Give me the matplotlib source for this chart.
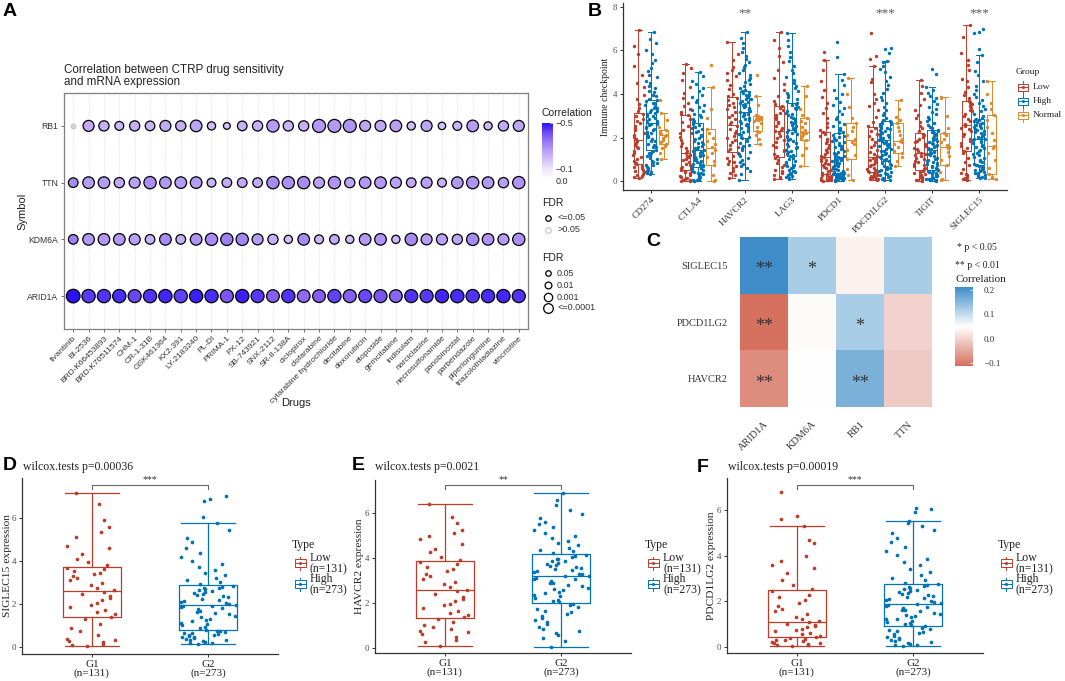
import numpy as np
import matplotlib
matplotlib.use("Agg")
import matplotlib.pyplot as plt
from matplotlib.colors import LinearSegmentedColormap, Normalize
from matplotlib.cm import ScalarMappable
from matplotlib.patches import Rectangle

W, H = 1065, 681
SANS = ["Liberation Sans", "DejaVu Sans"]
SERIF = ["Liberation Serif", "DejaVu Serif"]
RED, BLUE, ORANGE = "#BC3C29", "#0072B5", "#E18727"

# ---------------- A: CTRP drug sensitivity vs mRNA expression ----------------
drugs = ["tivantinib", "BI-2536", "BRD-K66453893", "BRD-K70511574", "CHM-1", "CR-1-31B",
         "GSK461364", "KX2-391", "LY-2183240", "PL-DI", "PRIMA-1", "PX-12", "SB-743921",
         "SNX-2112", "SR-II-138A", "ciclopirox", "clofarabine", "cytarabine hydrochloride",
         "decitabine", "doxorubicin", "etoposide", "gemcitabine", "indisulam", "narciclasine",
         "necrosulfonamide", "panobinostat", "parbendazole", "piperlongumine",
         "triazolothiadiazine", "vincristine"]
symbols = ["ARID1A", "KDM6A", "TTN", "RB1"]  # bottom to top

cor_arid1a = [-0.50, -0.44, -0.45, -0.46, -0.42, -0.45, -0.47, -0.43, -0.48, -0.46,
              -0.40, -0.48, -0.44, -0.38, -0.45, -0.36, -0.38, -0.43, -0.38, -0.42,
              -0.40, -0.37, -0.45, -0.44, -0.47, -0.46, -0.45, -0.46, -0.47, -0.45]
cor_kdm6a = [-0.32, -0.27, -0.27, -0.27, -0.25, -0.21, -0.30, -0.22, -0.28, -0.30,
             -0.32, -0.31, -0.26, -0.22, -0.19, -0.30, -0.20, -0.23, -0.19, -0.27,
             -0.28, -0.20, -0.30, -0.26, -0.25, -0.24, -0.30, -0.28, -0.26, -0.29]
cor_ttn = [-0.30, -0.26, -0.26, -0.23, -0.25, -0.29, -0.27, -0.26, -0.26, -0.21,
           -0.23, -0.23, -0.23, -0.30, -0.29, -0.30, -0.25, -0.28, -0.24, -0.27,
           -0.27, -0.25, -0.23, -0.25, -0.22, -0.27, -0.28, -0.27, -0.25, -0.28]
cor_rb1 = [-0.08, -0.23, -0.22, -0.20, -0.22, -0.21, -0.23, -0.22, -0.24, -0.19,
           -0.18, -0.21, -0.22, -0.26, -0.21, -0.22, -0.27, -0.27, -0.28, -0.24,
           -0.23, -0.25, -0.19, -0.24, -0.18, -0.21, -0.26, -0.20, -0.23, -0.24]
# -log10(FDR)
fdr_arid1a = [8.0, 7.6, 7.6, 7.6, 7.3, 7.6, 7.6, 7.6, 7.6, 7.6, 7.3, 7.6, 7.3, 7.0, 7.6,
              7.0, 7.0, 7.6, 7.3, 7.3, 7.3, 7.0, 7.3, 7.3, 7.6, 7.6, 7.6, 7.6, 7.6, 7.3]
fdr_kdm6a = [4.0, 5.8, 5.8, 5.8, 5.2, 4.0, 5.8, 4.0, 5.8, 6.5, 6.5, 6.5, 5.2, 4.5, 2.9,
             5.8, 3.4, 4.0, 2.9, 5.8, 5.8, 2.9, 6.5, 5.2, 5.2, 4.5, 6.5, 5.8, 5.2, 6.5]
fdr_ttn = [4.0, 5.8, 5.8, 4.5, 5.2, 6.5, 5.8, 5.8, 5.8, 3.4, 4.0, 4.0, 4.0, 6.5, 6.5,
           6.5, 5.2, 6.5, 4.5, 5.8, 5.8, 5.2, 4.0, 5.2, 3.4, 5.8, 6.5, 5.8, 4.5, 6.5]
fdr_rb1 = [1.0, 5.2, 4.5, 3.4, 4.5, 4.0, 5.2, 4.5, 5.8, 2.9, 2.0, 4.0, 4.5, 6.5, 4.5,
           4.5, 7.3, 7.3, 7.3, 5.2, 5.2, 5.8, 2.9, 5.2, 2.4, 3.4, 5.8, 2.9, 4.5, 5.2]

# ---------------- B / D / E / F: immune checkpoint expression ----------------
checkpoints = ["CD274", "CTLA4", "HAVCR2", "LAG3", "PDCD1", "PDCD1LG2", "TIGIT", "SIGLEC15"]
checkpoint_sig = ["", "", "**", "", "", "***", "", "***"]

# box statistics: lower whisker, q1, median, q3, upper whisker
low_whislo = [0.15, 0.00, 0.12, 0.10, 0.02, 0.06, 0.02, 0.05]
low_q1 = [0.80, 0.50, 1.34, 1.10, 0.34, 0.42, 0.50, 1.36]
low_med = [1.88, 1.30, 2.57, 2.30, 1.10, 1.10, 1.27, 2.59]
low_q3 = [3.11, 3.05, 3.85, 3.46, 2.27, 2.49, 2.20, 3.70]
low_whishi = [6.93, 5.38, 6.39, 6.86, 5.58, 5.29, 4.64, 7.16]

high_whislo = [0.34, 0.00, 0.07, 0.10, 0.02, 0.04, 0.02, 0.12]
high_q1 = [1.42, 0.65, 1.99, 1.15, 0.35, 0.92, 0.50, 0.76]
high_med = [2.65, 1.42, 3.19, 2.35, 1.10, 1.89, 1.42, 1.92]
high_q3 = [3.74, 2.65, 4.16, 3.60, 2.20, 2.77, 2.36, 2.85]
high_whishi = [6.84, 4.99, 6.87, 6.78, 4.94, 5.53, 4.32, 5.77]

normal_whislo = [1.00, 0.00, 1.70, 0.69, 0.06, 0.68, 0.05, 0.08]
normal_q1 = [1.72, 0.72, 2.32, 1.88, 1.03, 1.28, 0.76, 0.32]
normal_med = [2.10, 1.50, 2.82, 2.27, 1.88, 1.85, 1.56, 1.61]
normal_q3 = [2.34, 2.39, 2.97, 2.91, 2.66, 2.66, 2.20, 3.05]
normal_whishi = [3.15, 4.30, 3.90, 4.37, 4.73, 3.74, 3.87, 4.58]

pts_low_cd274 = [0.15, 0.19, 0.24, 0.30, 0.33, 0.41, 0.47, 0.52, 0.60, 0.66, 0.71, 0.78,
                 0.84, 0.93, 1.02, 1.10, 1.21, 1.29, 1.37, 1.50, 1.58, 1.66, 1.77, 1.85,
                 1.92, 2.01, 2.12, 2.20, 2.34, 2.43, 2.55, 2.66, 2.78, 2.86, 2.97, 3.08,
                 3.20, 3.35, 3.52, 3.78, 3.95, 4.30, 4.52, 4.85, 5.30, 5.82, 6.20, 6.93]
pts_high_cd274 = [0.34, 0.36, 0.41, 0.47, 0.50, 0.57, 0.61, 0.64, 0.72, 0.76, 0.85, 0.88, 0.93, 1.02,
                  1.05, 1.16, 1.19, 1.28, 1.31, 1.40, 1.45, 1.55, 1.58, 1.67, 1.71, 1.82, 1.86, 1.93,
                  2.03, 2.06, 2.16, 2.19, 2.27, 2.36, 2.38, 2.46, 2.49, 2.56, 2.60, 2.64, 2.67, 2.75,
                  2.78, 2.86, 2.89, 2.97, 3.00, 3.09, 3.11, 3.19, 3.22, 3.27, 3.35, 3.37, 3.46, 3.49,
                  3.57, 3.60, 3.68, 3.73, 3.79, 3.90, 3.95, 4.08, 4.13, 4.28, 4.35, 4.51, 4.60, 4.79,
                  4.88, 5.07, 5.20, 5.43, 5.55, 5.83, 6.02, 6.33, 6.51, 6.84]
pts_normal_cd274 = [1.00, 1.30, 1.50, 1.62, 1.72, 1.80, 1.90, 1.97, 2.05, 2.12, 2.18, 2.22,
                    2.28, 2.34, 2.50, 2.80, 3.15, 3.74]

pts_low_ctla4 = [0.00, 0.01, 0.03, 0.05, 0.09, 0.12, 0.18, 0.22, 0.29, 0.35, 0.41, 0.48,
                 0.53, 0.60, 0.66, 0.74, 0.80, 0.88, 0.95, 1.01, 1.10, 1.16, 1.22, 1.29,
                 1.38, 1.50, 1.62, 1.75, 1.90, 2.04, 2.21, 2.36, 2.55, 2.70, 2.86, 3.02,
                 3.10, 3.18, 3.30, 3.45, 3.60, 3.82, 4.05, 4.30, 4.62, 4.95, 5.18, 5.38]
pts_high_ctla4 = [0.00, 0.02, 0.03, 0.05, 0.08, 0.10, 0.13, 0.17, 0.21, 0.23, 0.27, 0.32, 0.35, 0.39,
                  0.42, 0.47, 0.51, 0.56, 0.60, 0.64, 0.67, 0.72, 0.76, 0.79, 0.84, 0.87, 0.92, 0.96,
                  1.01, 1.04, 1.09, 1.14, 1.17, 1.22, 1.25, 1.30, 1.32, 1.36, 1.38, 1.41, 1.46, 1.50,
                  1.57, 1.62, 1.69, 1.74, 1.81, 1.86, 1.94, 1.99, 2.06, 2.11, 2.19, 2.24, 2.32, 2.37,
                  2.45, 2.50, 2.58, 2.63, 2.70, 2.78, 2.86, 2.93, 3.03, 3.10, 3.21, 3.28, 3.39, 3.49,
                  3.62, 3.72, 3.86, 3.97, 4.13, 4.26, 4.46, 4.61, 4.81, 4.99]
pts_normal_ctla4 = [0.00, 0.05, 0.30, 0.72, 0.90, 1.10, 1.30, 1.45, 1.55, 1.70, 1.85, 2.00,
                    2.20, 2.39, 2.90, 3.30, 4.30, 5.33]

pts_low_havcr2 = [0.12, 0.29, 0.35, 0.48, 0.62, 0.71, 0.78, 0.86, 0.93, 1.04, 1.17, 1.31,
                  1.38, 1.47, 1.58, 1.66, 1.79, 1.90, 1.97, 2.08, 2.20, 2.29, 2.41, 2.52,
                  2.60, 2.71, 2.84, 2.93, 3.05, 3.18, 3.29, 3.42, 3.50, 3.60, 3.71, 3.82,
                  3.90, 4.02, 4.25, 4.40, 4.63, 4.84, 4.95, 5.10, 5.22, 5.56, 5.82, 6.39]
pts_high_havcr2 = [0.07, 0.31, 0.45, 0.58, 0.69, 0.77, 0.86, 0.95, 1.08, 1.16, 1.25, 1.33, 1.42, 1.50,
                   1.59, 1.66, 1.74, 1.82, 1.90, 1.97, 2.03, 2.11, 2.15, 2.24, 2.31, 2.36, 2.44, 2.50,
                   2.57, 2.61, 2.69, 2.76, 2.80, 2.87, 2.91, 2.98, 3.05, 3.08, 3.13, 3.18, 3.21, 3.27,
                   3.29, 3.36, 3.40, 3.46, 3.49, 3.55, 3.59, 3.65, 3.68, 3.75, 3.78, 3.85, 3.87, 3.94,
                   3.97, 4.04, 4.07, 4.14, 4.20, 4.29, 4.37, 4.46, 4.55, 4.66, 4.75, 4.86, 4.98, 5.10,
                   5.22, 5.35, 5.48, 5.60, 5.75, 5.93, 6.10, 6.32, 6.55, 6.87]
pts_normal_havcr2 = [1.70, 1.95, 2.10, 2.25, 2.32, 2.50, 2.65, 2.75, 2.80, 2.84, 2.88, 2.92,
                     2.97, 3.00, 3.05, 3.50, 3.90, 4.85]

pts_low_lag3 = [0.10, 0.14, 0.20, 0.27, 0.35, 0.44, 0.52, 0.63, 0.74, 0.85, 0.96, 1.07,
                1.15, 1.25, 1.36, 1.45, 1.56, 1.67, 1.78, 1.88, 1.99, 2.08, 2.19, 2.28,
                2.35, 2.44, 2.54, 2.65, 2.73, 2.84, 2.95, 3.04, 3.14, 3.25, 3.34, 3.44,
                3.55, 3.70, 3.92, 4.20, 4.46, 4.75, 5.12, 5.48, 5.75, 6.10, 6.50, 6.86]
pts_high_lag3 = [0.10, 0.13, 0.17, 0.22, 0.28, 0.31, 0.37, 0.42, 0.47, 0.53, 0.60, 0.64, 0.71, 0.76,
                 0.82, 0.89, 0.94, 1.01, 1.08, 1.13, 1.18, 1.25, 1.32, 1.37, 1.44, 1.51, 1.56, 1.63,
                 1.70, 1.75, 1.82, 1.89, 1.94, 2.01, 2.07, 2.14, 2.19, 2.26, 2.30, 2.34, 2.41, 2.46,
                 2.53, 2.58, 2.65, 2.72, 2.77, 2.84, 2.91, 2.96, 3.03, 3.10, 3.15, 3.22, 3.29, 3.34,
                 3.41, 3.48, 3.52, 3.59, 3.67, 3.76, 3.85, 3.95, 4.05, 4.16, 4.27, 4.39, 4.52, 4.65,
                 4.80, 4.96, 5.12, 5.30, 5.50, 5.72, 5.95, 6.20, 6.50, 6.78]
pts_normal_lag3 = [0.69, 1.20, 1.50, 1.88, 1.95, 2.05, 2.15, 2.22, 2.27, 2.35, 2.50, 2.65,
                   2.78, 2.91, 3.05, 3.30, 3.90, 4.37]

pts_low_pdcd1 = [0.02, 0.03, 0.05, 0.07, 0.10, 0.13, 0.16, 0.19, 0.22, 0.26, 0.29, 0.33,
                 0.38, 0.45, 0.52, 0.58, 0.65, 0.72, 0.79, 0.85, 0.91, 0.97, 1.03, 1.09,
                 1.16, 1.25, 1.34, 1.44, 1.53, 1.64, 1.74, 1.85, 1.95, 2.06, 2.15, 2.25,
                 2.35, 2.50, 2.68, 2.90, 3.12, 3.35, 3.60, 3.88, 4.20, 4.60, 5.10, 5.58, 5.95]
pts_high_pdcd1 = [0.02, 0.03, 0.04, 0.06, 0.07, 0.09, 0.10, 0.12, 0.14, 0.16, 0.18, 0.20, 0.22, 0.24,
                  0.26, 0.28, 0.30, 0.31, 0.33, 0.35, 0.39, 0.43, 0.47, 0.51, 0.55, 0.59, 0.63, 0.67,
                  0.71, 0.75, 0.79, 0.83, 0.87, 0.91, 0.95, 0.98, 1.01, 1.04, 1.07, 1.09, 1.13, 1.18,
                  1.24, 1.29, 1.34, 1.40, 1.46, 1.51, 1.57, 1.62, 1.68, 1.73, 1.79, 1.85, 1.90, 1.96,
                  2.02, 2.08, 2.13, 2.19, 2.25, 2.34, 2.42, 2.52, 2.61, 2.72, 2.83, 2.95, 3.07, 3.20,
                  3.34, 3.48, 3.62, 3.80, 3.98, 4.18, 4.40, 4.62, 4.94, 5.70, 6.40]
pts_normal_pdcd1 = [0.06, 0.30, 0.55, 1.03, 1.20, 1.45, 1.70, 1.80, 1.88, 1.95, 2.10, 2.30,
                    2.50, 2.66, 2.90, 3.40, 4.00, 4.73]

pts_low_pdcd1lg2 = [0.06, 0.08, 0.10, 0.13, 0.16, 0.19, 0.22, 0.25, 0.29, 0.32, 0.36, 0.40,
                    0.45, 0.50, 0.56, 0.62, 0.68, 0.74, 0.80, 0.86, 0.92, 0.98, 1.03, 1.08,
                    1.14, 1.24, 1.33, 1.45, 1.56, 1.68, 1.80, 1.93, 2.05, 2.18, 2.30, 2.44,
                    2.55, 2.72, 2.95, 3.25, 3.45, 3.60, 3.78, 4.00, 4.55, 4.70, 5.29, 5.60, 5.75, 6.78]
pts_high_pdcd1lg2 = [0.04, 0.07, 0.10, 0.14, 0.18, 0.22, 0.27, 0.31, 0.36, 0.41, 0.46, 0.50, 0.55, 0.60,
                     0.65, 0.70, 0.75, 0.80, 0.85, 0.90, 0.96, 1.01, 1.04, 1.11, 1.14, 1.21, 1.24, 1.31,
                     1.36, 1.39, 1.46, 1.49, 1.56, 1.61, 1.64, 1.71, 1.74, 1.80, 1.84, 1.88, 1.92, 1.97,
                     2.01, 2.06, 2.10, 2.15, 2.19, 2.24, 2.28, 2.33, 2.37, 2.42, 2.46, 2.51, 2.55, 2.60,
                     2.64, 2.68, 2.72, 2.76, 2.82, 2.92, 3.03, 3.15, 3.28, 3.42, 3.58, 3.72, 3.88, 4.05,
                     4.22, 4.40, 4.60, 4.80, 5.00, 5.15, 5.30, 5.45, 5.53, 5.90, 6.05, 6.10]
pts_normal_pdcd1lg2 = [0.68, 0.90, 1.10, 1.28, 1.40, 1.55, 1.70, 1.80, 1.85, 1.95, 2.10, 2.30,
                       2.50, 2.66, 2.80, 2.95, 3.30, 3.74]

pts_low_tigit = [0.02, 0.04, 0.06, 0.09, 0.13, 0.17, 0.21, 0.26, 0.31, 0.36, 0.42, 0.48,
                 0.54, 0.60, 0.67, 0.73, 0.80, 0.87, 0.93, 1.00, 1.06, 1.13, 1.19, 1.25,
                 1.31, 1.39, 1.46, 1.54, 1.62, 1.70, 1.78, 1.86, 1.94, 2.02, 2.10, 2.18,
                 2.28, 2.42, 2.55, 2.70, 2.88, 3.05, 3.25, 3.50, 3.75, 4.05, 4.35, 4.64]
pts_high_tigit = [0.02, 0.03, 0.05, 0.07, 0.09, 0.11, 0.14, 0.16, 0.19, 0.22, 0.24, 0.27, 0.30, 0.33,
                  0.36, 0.39, 0.42, 0.44, 0.47, 0.49, 0.54, 0.59, 0.64, 0.68, 0.73, 0.78, 0.83, 0.88,
                  0.93, 0.98, 1.03, 1.08, 1.13, 1.18, 1.23, 1.27, 1.31, 1.35, 1.38, 1.41, 1.46, 1.51,
                  1.56, 1.60, 1.65, 1.70, 1.75, 1.80, 1.85, 1.90, 1.95, 2.00, 2.05, 2.10, 2.15, 2.20,
                  2.24, 2.28, 2.32, 2.35, 2.42, 2.50, 2.58, 2.67, 2.76, 2.86, 2.96, 3.07, 3.18, 3.30,
                  3.42, 3.55, 3.68, 3.80, 3.92, 4.05, 4.18, 4.32, 4.90, 5.15]
pts_normal_tigit = [0.05, 0.10, 0.40, 0.76, 0.95, 1.15, 1.35, 1.50, 1.56, 1.65, 1.80, 1.95,
                    2.10, 2.20, 2.45, 3.00, 3.80, 3.87]

pts_low_siglec15 = [0.05, 0.09, 0.14, 0.20, 0.26, 0.31, 0.38, 0.55, 0.74, 0.88, 1.05, 1.29,
                    1.40, 1.50, 1.60, 1.73, 1.85, 1.94, 2.05, 2.16, 2.28, 2.37, 2.46, 2.55,
                    2.64, 2.75, 2.86, 2.98, 3.08, 3.20, 3.28, 3.37, 3.45, 3.53, 3.60, 3.67,
                    3.82, 3.95, 4.10, 4.32, 4.60, 4.68, 5.08, 5.35, 5.55, 5.88, 6.62, 7.16]
pts_high_siglec15 = [0.12, 0.15, 0.19, 0.22, 0.26, 0.29, 0.33, 0.36, 0.39, 0.43, 0.46, 0.50, 0.53, 0.56,
                     0.60, 0.63, 0.66, 0.69, 0.72, 0.75, 0.80, 0.86, 0.92, 0.99, 1.05, 1.12, 1.18, 1.25,
                     1.31, 1.38, 1.44, 1.51, 1.57, 1.63, 1.68, 1.74, 1.79, 1.84, 1.88, 1.91, 1.95, 2.00,
                     2.04, 2.09, 2.14, 2.19, 2.24, 2.29, 2.34, 2.39, 2.44, 2.49, 2.54, 2.58, 2.63, 2.67,
                     2.71, 2.75, 2.79, 2.83, 2.92, 3.00, 3.10, 3.20, 3.32, 3.45, 3.58, 3.72, 3.85, 4.00,
                     4.18, 4.38, 4.60, 4.85, 5.05, 5.45, 5.77, 6.05, 6.80, 6.85, 7.00]
pts_normal_siglec15 = [0.08, 0.12, 0.20, 0.32, 0.60, 0.95, 1.30, 1.50, 1.61, 1.90, 2.20, 2.50,
                       2.80, 3.05, 3.30, 3.60, 4.00, 4.58]

# ---------------- C: correlation heatmap ----------------
heat_rows = ["SIGLEC15", "PDCD1LG2", "HAVCR2"]
heat_cols = ["ARID1A", "KDM6A", "RB1", "TTN"]
heat_siglec15 = [0.21, 0.12, 0.035, 0.12]
heat_pdcd1lg2 = [-0.11, 0.045, 0.12, 0.0]
heat_havcr2 = [-0.08, 0.05, 0.16, -0.01]
star_siglec15 = ["**", "*", "", ""]
star_pdcd1lg2 = ["**", "", "*", ""]
star_havcr2 = ["**", "", "**", ""]

# ---------------------------------------------------------------------------
fig = plt.figure(figsize=(W / 100, H / 100), dpi=100)
fig.patch.set_facecolor("white")


def add_ax(l, t, r, b):
    return fig.add_axes([l / W, 1 - b / H, (r - l) / W, (b - t) / H])


def jitter(n, half, phase):
    # deterministic scatter of horizontal offsets
    k = np.arange(n) + phase * 997.0
    u = np.modf(np.abs(np.sin(k * 12.9898 + 78.233) * 43758.5453))[0]
    return (u - 0.5) * 2 * half


def draw_box(ax, x, st, color, width, capw, lw=0.8):
    ax.bxp([dict(whislo=st[0], q1=st[1], med=st[2], q3=st[3], whishi=st[4], fliers=[])],
           positions=[x], widths=width, capwidths=capw, showfliers=False,
           boxprops=dict(color=color, lw=lw), whiskerprops=dict(color=color, lw=lw),
           capprops=dict(color=color, lw=lw), medianprops=dict(color=color, lw=lw),
           manage_ticks=False, zorder=2)


def serif_axis(ax, tick_size=6.5):
    for s in ["top", "right"]:
        ax.spines[s].set_visible(False)
    for s in ["left", "bottom"]:
        ax.spines[s].set_color("#333333")
        ax.spines[s].set_linewidth(0.9)
    ax.tick_params(length=2.5, width=0.7, color="#333333", labelsize=tick_size,
                   labelcolor="#4D4D4D", pad=1.5)
    for lab in ax.get_xticklabels() + ax.get_yticklabels():
        lab.set_family(SERIF)


# ---------------- panel A ----------------
cmapA = LinearSegmentedColormap.from_list(
    "corA", [(0.0, "#2B12F7"), (0.2, "#7B55F2"), (0.4, "#A88AF4"),
             (0.6, "#CDB8F8"), (0.8, "#EDE5FD"), (1.0, "#FFFFFF")])
normA = Normalize(-0.5, 0.0)
SIZE_K = 12.0  # points^2 per unit of -log10(FDR)
fdr_cut = -np.log10(0.05)

axA = add_ax(64, 93, 528, 329)
xs = np.arange(1, len(drugs) + 1)
rows_cor = [cor_arid1a, cor_kdm6a, cor_ttn, cor_rb1]
rows_fdr = [fdr_arid1a, fdr_kdm6a, fdr_ttn, fdr_rb1]
for yi, (cv, fv) in enumerate(zip(rows_cor, rows_fdr)):
    cv = np.array(cv)
    fv = np.array(fv)
    sig = fv >= fdr_cut
    cols = cmapA(normA(cv))
    axA.scatter(xs[sig], np.full(sig.sum(), yi + 1), s=fv[sig] * SIZE_K, c=cols[sig],
                edgecolors="black", linewidths=0.9, zorder=3)
    if (~sig).any():
        axA.scatter(xs[~sig], np.full((~sig).sum(), yi + 1), s=fv[~sig] * SIZE_K,
                    c="#D8D2E6", edgecolors="#BBBBBB", linewidths=0.6, zorder=3)
axA.set_xlim(0.4, len(drugs) + 0.6)
axA.set_ylim(0.42, 4.58)
axA.set_xticks(xs)
axA.set_xticklabels(drugs, rotation=45, ha="right", rotation_mode="anchor",
                    fontsize=6.0, family=SANS, color="#333333")
axA.set_yticks([1, 2, 3, 4])
axA.set_yticklabels(symbols, fontsize=6.2, family=SANS, color="#333333")
axA.tick_params(length=2.5, width=0.6, color="#555555", pad=1.5)
axA.grid(axis="x", color="#D9D9D9", lw=0.5, linestyle=(0, (2, 2)), zorder=0)
axA.set_axisbelow(True)
for s in axA.spines.values():
    s.set_color("#7F7F7F")
    s.set_linewidth(0.9)

caxA = add_ax(542, 123, 553, 180)
cbA = fig.colorbar(ScalarMappable(norm=normA, cmap=cmapA), cax=caxA, ticks=[-0.5, -0.1, 0.0])
caxA.invert_yaxis()
cbA.outline.set_visible(False)
caxA.tick_params(length=2, width=0.5, color="white", direction="in", labelsize=6.5, pad=2)
for lab in caxA.get_yticklabels():
    lab.set_family(SANS)
    lab.set_color("#333333")

# ---------------- panel B ----------------
axB = add_ax(623, 3, 1007, 190)
low_stats = list(zip(low_whislo, low_q1, low_med, low_q3, low_whishi))
high_stats = list(zip(high_whislo, high_q1, high_med, high_q3, high_whishi))
normal_stats = list(zip(normal_whislo, normal_q1, normal_med, normal_q3, normal_whishi))
pts_low = [pts_low_cd274, pts_low_ctla4, pts_low_havcr2, pts_low_lag3,
           pts_low_pdcd1, pts_low_pdcd1lg2, pts_low_tigit, pts_low_siglec15]
pts_high = [pts_high_cd274, pts_high_ctla4, pts_high_havcr2, pts_high_lag3,
            pts_high_pdcd1, pts_high_pdcd1lg2, pts_high_tigit, pts_high_siglec15]
pts_normal = [pts_normal_cd274, pts_normal_ctla4, pts_normal_havcr2, pts_normal_lag3,
              pts_normal_pdcd1, pts_normal_pdcd1lg2, pts_normal_tigit, pts_normal_siglec15]
dodge = {"Low": -0.27, "High": 0.0, "Normal": 0.27}
for gi in range(len(checkpoints)):
    x0 = gi + 1
    for gname, col, st, pts, jw, ph in [("Low", RED, low_stats[gi], pts_low[gi], 0.12, 0.11),
                                        ("High", BLUE, high_stats[gi], pts_high[gi], 0.13, 0.37),
                                        ("Normal", ORANGE, normal_stats[gi], pts_normal[gi], 0.1, 0.71)]:
        x = x0 + dodge[gname]
        draw_box(axB, x, st, col, 0.2, 0.14, lw=0.7)
        axB.scatter(x + jitter(len(pts), jw, ph + gi * 0.07), pts, s=6, color=col,
                    linewidths=0, zorder=3)
    if checkpoint_sig[gi]:
        axB.text(x0, 7.7, checkpoint_sig[gi], ha="center", va="center", fontsize=9.5,
                 family=SERIF, color="#555555")
axB.set_xlim(0.4, len(checkpoints) + 0.6)
axB.set_ylim(-0.41, 8.18)
axB.set_yticks([0, 2, 4, 6, 8])
axB.set_xticks(np.arange(1, len(checkpoints) + 1))
axB.set_xticklabels(checkpoints, rotation=45, ha="right", rotation_mode="anchor")
serif_axis(axB, 6.3)
for lab in axB.get_xticklabels():
    lab.set_fontsize(6.8)
    lab.set_color("#333333")
axB.set_ylabel("Immune checkpoint", fontsize=7, family=SERIF, color="#222222", labelpad=2)

# ---------------- panel C ----------------
cmapC = LinearSegmentedColormap.from_list("corC", ["#D6705F", "#FFFFFF", "#3D8DC8"])
normC = Normalize(-0.112, 0.212)
axC = add_ax(740, 237, 932, 407)
heat = np.array([heat_siglec15, heat_pdcd1lg2, heat_havcr2])
stars = [star_siglec15, star_pdcd1lg2, star_havcr2]
axC.imshow(heat, cmap=cmapC, norm=normC, extent=(-0.5, 3.5, 2.5, -0.5), aspect="auto")
for r in range(heat.shape[0]):
    for c in range(heat.shape[1]):
        if stars[r][c]:
            axC.text(c, r + 0.08, stars[r][c], ha="center", va="center", fontsize=13,
                     family=SERIF, color="#333333")
axC.set_xticks(range(len(heat_cols)))
axC.set_xticklabels(heat_cols, rotation=45, ha="right", rotation_mode="anchor",
                    fontsize=7.5, family=SERIF, color="#333333")
axC.set_yticks(range(len(heat_rows)))
axC.set_yticklabels(heat_rows, fontsize=7.5, family=SERIF, color="#333333")
axC.tick_params(length=0, pad=9)
for s in axC.spines.values():
    s.set_visible(False)

caxC = add_ax(955, 287, 973, 366)
cbC = fig.colorbar(ScalarMappable(norm=normC, cmap=cmapC), cax=caxC, ticks=[-0.1, 0.0, 0.1, 0.2])
cbC.outline.set_visible(False)
caxC.tick_params(length=2, width=0.5, color="white", direction="in", labelsize=6.5, pad=8)
for lab in caxC.get_yticklabels():
    lab.set_family(SERIF)
    lab.set_color("#333333")


# ---------------- panels D, E, F ----------------
def expr_panel(l, t, r, b, zero_px, unit_px, low, high, st_low, st_high, bracket_y, sig):
    ax = add_ax(l, t, r, b)
    ax.set_xlim(0.4, 2.6)
    ax.set_ylim((zero_px - b) / unit_px, (zero_px - t) / unit_px)
    draw_box(ax, 1, st_low, RED, 0.5, 0.46, lw=0.9)
    draw_box(ax, 2, st_high, BLUE, 0.5, 0.46, lw=0.9)
    ax.scatter(1 + jitter(len(low), 0.22, 0.13), low, s=7, color=RED, linewidths=0, zorder=3)
    ax.scatter(2 + jitter(len(high), 0.24, 0.52), high, s=7, color=BLUE, linewidths=0, zorder=3)
    ax.plot([1, 1, 2, 2], [bracket_y - 0.2, bracket_y, bracket_y, bracket_y - 0.2],
            color="#666666", lw=0.8)
    ax.text(1.5, bracket_y + 0.02, sig, ha="center", va="bottom", fontsize=7,
            family=SERIF, color="#333333")
    ax.set_yticks([0, 2, 4, 6])
    ax.set_xticks([1, 2])
    ax.set_xticklabels(["G1\n(n=131)", "G2\n(n=273)"], linespacing=0.95)
    serif_axis(ax, 6.5)
    for lab in ax.get_xticklabels():
        lab.set_fontsize(8)
        lab.set_color("#222222")
    return ax


expr_panel(22, 478, 278, 654, 646.7, 21.5, pts_low_siglec15, pts_high_siglec15,
           low_stats[7], high_stats[7], 7.52, "***")
expr_panel(375, 480, 631, 653, 648.3, 22.6, pts_low_havcr2, pts_high_havcr2,
           low_stats[2], high_stats[2], 7.23, "**")
expr_panel(727, 478, 983, 653, 647.0, 22.8, pts_low_pdcd1lg2, pts_high_pdcd1lg2,
           low_stats[5], high_stats[5], 7.12, "***")

# ---------------- overlay: letters, titles, legends ----------------
ov = fig.add_axes([0, 0, 1, 1])
ov.set_xlim(0, W)
ov.set_ylim(H, 0)
ov.axis("off")

for letter, x, y in [("A", 10, 12), ("B", 595, 11), ("C", 653, 242),
                     ("D", 10, 465), ("E", 358, 465), ("F", 703, 468)]:
    ov.text(x, y, letter, ha="center", va="center", fontsize=14, fontweight="bold",
            family=SANS, color="black")

# panel A texts
ov.text(64, 70, "Correlation between CTRP drug sensitivity", ha="left", va="center",
        fontsize=8.4, family=SANS, color="#222222")
ov.text(64, 82, "and mRNA expression", ha="left", va="center", fontsize=8.4,
        family=SANS, color="#222222")
ov.text(296, 403, "Drugs", ha="center", va="center", fontsize=8, family=SANS, color="#222222")
ov.text(22, 211, "Symbol", ha="center", va="center", rotation=90, fontsize=8,
        family=SANS, color="#222222")
ov.text(542, 113, "Correlation", ha="left", va="center", fontsize=7.5, family=SANS,
        color="#222222")
ov.text(542, 203, "FDR", ha="left", va="center", fontsize=7.5, family=SANS, color="#222222")
ov.scatter([548], [218], s=1.3 * SIZE_K, facecolors="white", edgecolors="black", linewidths=0.9)
ov.scatter([548], [230], s=1.3 * SIZE_K, facecolors="white", edgecolors="#BBBBBB", linewidths=0.7)
ov.text(557, 218, "<=0.05", ha="left", va="center", fontsize=6.5, family=SANS, color="#333333")
ov.text(557, 230, ">0.05", ha="left", va="center", fontsize=6.5, family=SANS, color="#333333")
ov.text(542, 258, "FDR", ha="left", va="center", fontsize=7.5, family=SANS, color="#222222")
for yy, v, lab in [(273, 1.3, "0.05"), (285, 2.0, "0.01"), (297, 3.0, "0.001"), (308, 4.0, "<=0.0001")]:
    ov.scatter([548], [yy], s=v * SIZE_K, facecolors="white", edgecolors="black", linewidths=0.9)
    ov.text(557, yy, lab, ha="left", va="center", fontsize=6.5, family=SANS, color="#333333")


def box_key(x, y, col, w=10, h=7, wh=6.5):
    ov.plot([x, x], [y - wh, y - h / 2], color=col, lw=0.7)
    ov.plot([x, x], [y + h / 2, y + wh], color=col, lw=0.7)
    ov.add_patch(Rectangle((x - w / 2, y - h / 2), w, h, fill=False, edgecolor=col, lw=0.7))
    ov.plot([x - w / 2, x + w / 2], [y, y], color=col, lw=0.7)
    ov.scatter([x], [y], s=5, color=col, linewidths=0)


# panel B legend
ov.text(1016, 72, "Group", ha="left", va="center", fontsize=6.8, family=SERIF, color="#222222")
for yy, col, lab in [(87, RED, "Low"), (101, BLUE, "High"), (115, ORANGE, "Normal")]:
    box_key(1023, yy, col)
    ov.text(1033, yy, lab, ha="left", va="center", fontsize=6.8, family=SERIF, color="#222222")

# panel C legend
ov.text(957, 247, "* p < 0.05", ha="left", va="center", fontsize=7, family=SERIF, color="#222222")
ov.text(955, 265, "** p < 0.01", ha="left", va="center", fontsize=7, family=SERIF, color="#222222")
ov.text(955, 279, "Correlation", ha="left", va="center", fontsize=8, family=SERIF, color="#222222")

# panels D/E/F titles, y labels and legends
for x0, title in [(23, "wilcox.tests p=0.00036"), (375, "wilcox.tests p=0.0021"),
                  (728, "wilcox.tests p=0.00019")]:
    ov.text(x0, 467, title, ha="left", va="center", fontsize=8.5, family=SERIF, color="#222222")
for xl, lab in [(8, "SIGLEC15 expression"), (360, "HAVCR2 expression"),
                (712, "PDCD1LG2 expression")]:
    ov.text(xl, 566, lab, ha="center", va="center", rotation=90, fontsize=8.2,
            family=SERIF, color="#222222")
for tx in [292, 645, 998]:
    ov.text(tx, 545, "Type", ha="left", va="center", fontsize=8.5, family=SERIF, color="#222222")
    box_key(tx + 8, 563, RED, w=11, h=8, wh=6.5)
    box_key(tx + 8, 584, BLUE, w=11, h=8, wh=6.5)
    ov.text(tx + 18, 558, "Low", ha="left", va="center", fontsize=8.5, family=SERIF, color="#222222")
    ov.text(tx + 18, 569, "(n=131)", ha="left", va="center", fontsize=8.5, family=SERIF, color="#222222")
    ov.text(tx + 18, 579, "High", ha="left", va="center", fontsize=8.5, family=SERIF, color="#222222")
    ov.text(tx + 18, 590, "(n=273)", ha="left", va="center", fontsize=8.5, family=SERIF, color="#222222")

fig.savefig("out.png", dpi=100, facecolor="white")
